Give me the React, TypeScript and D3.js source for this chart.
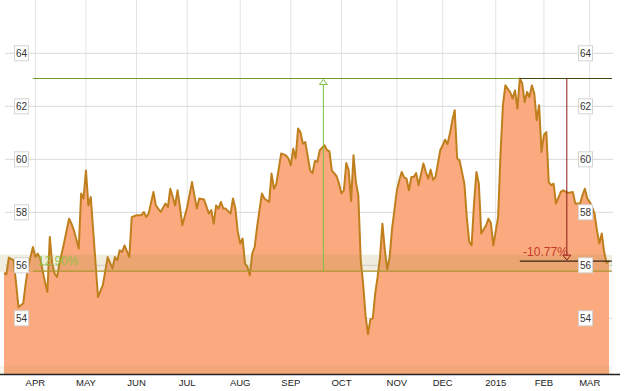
import React from "react";
import * as d3 from "d3";

// ---- data: session index (trading days since 2014-03-13) and close values ----
const sessionIdx = [
  0, 1, 2, 4, 5, 6, 8, 9, 10, 12, 13, 14, 15, 17, 18, 19, 20, 21, 22, 23, 25, 27, 28, 29, 31, 32, 33, 34, 35, 36,
  38, 39, 41, 43, 45, 46, 47, 48, 49, 50, 52, 53, 55, 57, 58, 59, 60, 62, 63, 65, 67, 68, 69, 71, 72, 73, 74, 76,
  78, 80, 81, 83, 85, 86, 87, 88, 89, 90, 91, 92, 94, 95, 96, 97, 98, 99, 100, 101, 102, 103, 104, 105, 107, 108,
  110, 111, 112, 113, 115, 117, 118, 119, 120, 121, 122, 123, 124, 125, 127, 128, 129, 130, 131, 133, 134, 135,
  136, 138, 139, 140, 141, 142, 143, 144, 145, 146, 147, 148, 149, 150, 151, 152, 153, 154, 155, 156, 157, 158,
  159, 160, 161, 163, 164, 165, 166, 167, 168, 169, 170, 171, 172, 174, 175, 176, 177, 178, 179, 181, 182, 183,
  184, 185, 186, 187, 188, 189, 191, 192, 193, 194, 195, 196, 197, 198, 200, 201, 202, 203, 205, 206, 207, 208,
  210, 211, 212, 213, 214, 215, 216, 217, 218, 219, 220, 221, 222, 223, 224, 225, 226, 227, 228, 229, 231, 232,
  234, 236, 237, 239, 240, 241, 242, 243, 244, 245, 246, 247, 248, 249, 250, 251,
];
const closeValues = [
  55.71, 55.66, 56.29, 56.19, 55.32, 54.42, 54.57, 55.32, 55.94, 56.69, 56.31, 56.44, 56.26, 55.37, 54.99, 57.07,
  56.06, 55.69, 55.56, 56.06, 56.88, 57.76, 57.57, 57.32, 56.63, 58.71, 58.52, 59.58, 58.26, 58.58,
  56.06, 54.8, 55.25, 56.31, 55.88, 56.31, 56.19, 56.57, 56.5, 56.75, 56.31, 57.82, 57.89, 57.89, 58.01, 57.82,
  57.95, 58.77, 58.26, 58.01, 58.33, 58.2, 58.89, 58.26, 58.83, 58.2, 57.51, 58.2,
  59.14, 58.14, 58.52, 58.48, 57.95, 58.08, 57.57, 58.26, 58.14, 58.39, 58.14, 58.14, 57.95, 58.52, 58.14, 57.26,
  56.82, 57.01, 56.06, 55.94, 55.62, 56.44, 56.69, 57.45, 58.71, 58.52,
  58.39, 59.46, 58.89, 59.08, 60.22, 60.15, 60.03, 59.77, 60.4, 60.03, 61.16, 61.02, 60.59, 60.65, 59.58, 59.48,
  59.94, 59.9, 60.34, 60.53, 60.34, 60.31,
  59.58, 59.36, 59.08, 58.71, 58.83, 59.86, 59.58, 58.43, 60.15, 59.14, 58.64, 56.2, 55.3, 54.11, 53.4, 53.96,
  54.0, 54.93, 55.56, 56.31, 57.57, 56.57,
  55.84, 56.31, 57.38, 58.83, 59.21, 59.52, 59.32, 59.27, 58.83, 59.33, 59.33, 59.48, 59.02, 59.84, 59.52, 59.27,
  59.61, 59.23, 59.33, 60.34, 60.53, 60.74,
  60.57, 60.97, 61.47, 61.85, 60.03, 59.96, 59.08, 57.82, 56.88, 56.75, 58.33, 59.52, 59.08, 57.2, 57.51, 57.76,
  57.6, 56.75, 57.82, 60.22, 62.04, 62.79,
  62.53, 62.29, 62.6, 61.91, 63.05, 62.86, 62.16, 62.54, 62.35, 62.79, 62.48, 61.47, 62.04, 60.28, 60.91, 61.03,
  59.14, 59.02, 59.08, 58.33, 58.77, 58.83,
  58.73, 58.77, 58.33, 58.33, 58.64, 58.89, 58.52, 58.39, 58.2, 57.95, 57.32, 56.82, 57.2, 56.5, 56.09, 56.16,
];

const yTicks = [54, 56, 58, 60, 62, 64];
const monthLabels = ["APR", "MAY", "JUN", "JUL", "AUG", "SEP", "OCT", "NOV", "DEC", "2015", "FEB", "MAR"];
const holidays = [
  "2014-04-18", "2014-05-26", "2014-07-04", "2014-09-01", "2014-11-27", "2014-12-25",
  "2015-01-01", "2015-01-19", "2015-02-16",
];
const firstSession = new Date(2014, 2, 13);
const lastSessionExclusive = new Date(2015, 2, 13);

// measurement annotations
const measureHigh = 63.05;
const measureLow = 55.78;
const measureLast = 56.16;
const measure1Start = 12;
const measure1At = 132.5;
const measure2Start = 214;
const measure2At = 233.5;
const measureEnd = 252.2;
const measure1Label = "12.90%";
const measure2Label = "-10.77%";

const W = 624;
const H = 391;
const plotBottom = 374;
const FONT = "'Liberation Sans', Arial, sans-serif";

export default function App() {
  const fmt = d3.timeFormat("%Y-%m-%d");
  const sessions = d3
    .timeDay.range(firstSession, lastSessionExclusive)
    .filter((d) => d.getDay() !== 0 && d.getDay() !== 6 && !holidays.includes(fmt(d)));
  const monthStarts: number[] = [];
  sessions.forEach((d, i) => {
    if (i > 0 && d.getMonth() !== sessions[i - 1].getMonth()) monthStarts.push(i);
  });

  const x = d3.scaleLinear().domain([0, sessions.length - 1]).range([4, 609]);
  const y = d3.scaleLinear().domain([54, 64]).range([318.3, 53.3]);

  const data = sessionIdx.map((s, k) => ({ s, v: closeValues[k] }));
  const area = d3
    .area<{ s: number; v: number }>()
    .x((d) => x(d.s))
    .y0(plotBottom)
    .y1((d) => y(d.v));
  const line = d3
    .line<{ s: number; v: number }>()
    .x((d) => x(d.s))
    .y((d) => y(d.v));

  const xm1 = x(measure1At);
  const xm2 = x(measure2At);
  const yHigh = y(measureHigh);
  const yLow = y(measureLow);
  const yLast = y(measureLast);

  return (
    <svg
      width={W}
      height={H}
      style={{ position: "absolute", left: 0, top: 0, background: "#fff" }}
      fontFamily={FONT}
    >
      <rect x={0} y={0} width={W} height={H} fill="#fff" />
      {/* vertical grid */}
      {monthStarts.map((s) => (
        <line key={"vg" + s} x1={x(s)} x2={x(s)} y1={0} y2={plotBottom} stroke="#e3e3e3" strokeWidth={1} />
      ))}
      {/* horizontal grid */}
      {yTicks.map((t) => (
        <line key={"hg" + t} x1={5} x2={613} y1={y(t)} y2={y(t)} stroke="#d9d9d9" strokeWidth={1} />
      ))}
      {/* area + line */}
      <path d={area(data) || ""} fill="#faaa7e" />
      <path d={line(data) || ""} fill="none" stroke="#c07f1d" strokeWidth={2} strokeLinejoin="round" />
      {/* subtle bands */}
      <rect x={0} y={y(56.4)} width={612} height={y(55.75) - y(56.4)} fill="#a38f3a" opacity={0.16} />
      <rect x={0} y={plotBottom - 8} width={612} height={8} fill="#a38f3a" opacity={0.1} />

      {/* measure 1 (green) */}
      <line x1={x(measure1Start)} x2={x(measureEnd)} y1={yHigh} y2={yHigh} stroke="#6f9e2c" strokeWidth={1.2} />
      <line x1={x(measure1Start)} x2={x(measureEnd)} y1={yLow} y2={yLow} stroke="#b0962e" strokeWidth={1.2} />
      <line x1={xm1} x2={xm1} y1={yLow} y2={yHigh + 5} stroke="#7cc040" strokeWidth={1} />
      <path
        d={`M${xm1},${yHigh + 1} L${xm1 - 4},${yHigh + 6} L${xm1 + 4},${yHigh + 6} Z`}
        fill="#fff"
        stroke="#7cc040"
        strokeWidth={1}
      />
      <text x={x(14)} y={yLow - 6} fontSize={12} fill="#8cc43c" opacity={0.9}>
        {measure1Label}
      </text>

      {/* measure 2 (dark red) */}
      <line x1={x(measure2Start)} x2={x(measureEnd)} y1={yHigh} y2={yHigh} stroke="#3f4a10" strokeWidth={1.2} />
      <line x1={x(measure2Start)} x2={x(measureEnd)} y1={yLast} y2={yLast} stroke="#3a2814" strokeWidth={1.2} />
      <line x1={xm2} x2={xm2} y1={yHigh} y2={yLast - 5} stroke="#8a1c16" strokeWidth={1} />
      <path
        d={`M${xm2},${yLast - 1} L${xm2 - 4},${yLast - 6} L${xm2 + 4},${yLast - 6} Z`}
        fill="none"
        stroke="#8a1c16"
        strokeWidth={1}
      />
      <text x={xm2 + 1} y={yLast - 5} fontSize={12} fill="#c43a2a" textAnchor="end">
        {measure2Label}
      </text>

      {/* y labels left & right */}
      {yTicks.map((t) => (
        <g key={"yl" + t}>
          <rect x={14.5} y={y(t) - 7.5} width={14} height={15} fill="#fff" stroke="#d4d4d4" strokeWidth={1} />
          <text x={21.5} y={y(t) + 3.5} fontSize={10} fill="#333" textAnchor="middle">
            {t}
          </text>
          <rect x={578.5} y={y(t) - 7.5} width={14} height={15} fill="#fff" stroke="#d4d4d4" strokeWidth={1} />
          <text x={585.5} y={y(t) + 3.5} fontSize={10} fill="#333" textAnchor="middle">
            {t}
          </text>
        </g>
      ))}

      {/* x axis */}
      <line x1={0} x2={620} y1={plotBottom + 0.5} y2={plotBottom + 0.5} stroke="#222" strokeWidth={1.3} />
      {monthStarts.map((s, k) => (
        <text key={"xl" + s} x={x(s)} y={386} fontSize={9.5} fill="#222" textAnchor="middle">
          {monthLabels[k]}
        </text>
      ))}
    </svg>
  );
}
